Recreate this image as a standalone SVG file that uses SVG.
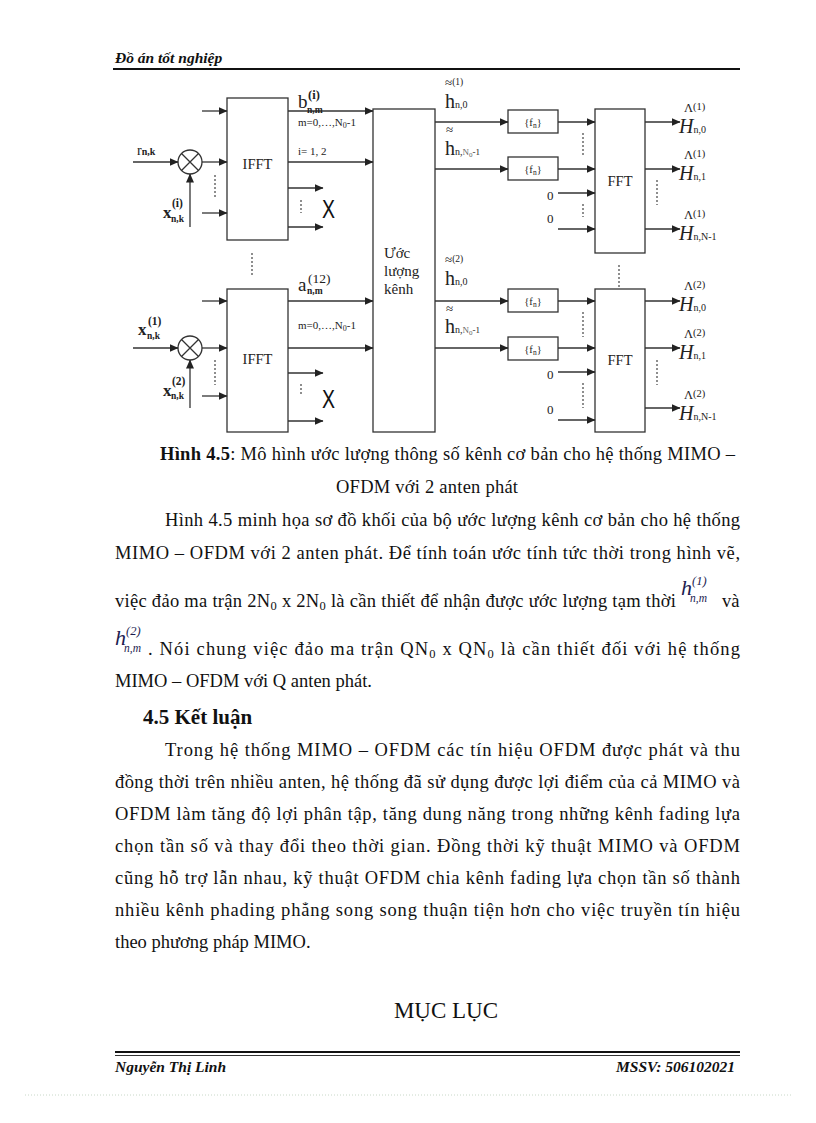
<svg xmlns="http://www.w3.org/2000/svg" width="816" height="1123" viewBox="0 0 816 1123">
<style>
.ln{stroke:#333;stroke-width:1.3;fill:none}
.ar{stroke:#333;stroke-width:1.3;fill:none;marker-end:url(#ah)}
.bx{fill:#fff;stroke:#333;stroke-width:1.3}
.dt{stroke:#444;stroke-width:1.2;stroke-dasharray:2 2;fill:none}
.t{font-family:"Liberation Serif",serif;fill:#111}
.d{font-family:"Liberation Serif",serif;fill:#222}
.body{font-family:"Liberation Serif",serif;font-size:18.5px;fill:#111}
.xm{font-family:"Liberation Sans",sans-serif;font-size:25px;fill:#111}
</style>
<defs>
<marker id="ah" markerWidth="9" markerHeight="8" refX="8.5" refY="4" orient="auto" markerUnits="userSpaceOnUse">
<path d="M0,0 L9,4 L0,8 Z" fill="#222"/>
</marker>
</defs>

<!-- header -->
<text class="t" x="115" y="63" font-size="15.5" font-weight="bold" font-style="italic">Đồ án tốt nghiệp</text>
<line x1="113" y1="69" x2="740" y2="69" stroke="#111" stroke-width="2.2"/>

<!-- nodes -->
<g id="ifft1"><rect class="bx" x="227" y="98" width="61" height="142"/><text class="d" x="257.5" y="169" font-size="14.5" text-anchor="middle">IFFT</text></g>
<g id="ifft2"><rect class="bx" x="227" y="289" width="61" height="143"/><text class="d" x="257.5" y="364" font-size="14.5" text-anchor="middle">IFFT</text></g>
<g id="mul1"><circle class="bx" cx="190" cy="162" r="12"/><path class="ln" d="M181.5,153.5 L198.5,170.5 M198.5,153.5 L181.5,170.5"/></g>
<g id="mul2"><circle class="bx" cx="190" cy="348" r="12"/><path class="ln" d="M181.5,339.5 L198.5,356.5 M198.5,339.5 L181.5,356.5"/></g>
<g id="estimator"><rect class="bx" x="373" y="109" width="62" height="323"/>
<text class="d" x="384" y="258" font-size="15">Ước</text>
<text class="d" x="384" y="276" font-size="15">lượng</text>
<text class="d" x="384" y="294" font-size="15">kênh</text></g>
<g id="f1"><rect class="bx" x="508" y="110" width="50" height="23"/><text class="d" x="533" y="126" font-size="10.5" text-anchor="middle">{f<tspan font-size="7.5" dy="2">n</tspan><tspan dy="-2">}</tspan></text></g>
<g id="f2"><rect class="bx" x="508" y="157" width="50" height="23"/><text class="d" x="533" y="173" font-size="10.5" text-anchor="middle">{f<tspan font-size="7.5" dy="2">n</tspan><tspan dy="-2">}</tspan></text></g>
<g id="f3"><rect class="bx" x="508" y="289" width="50" height="23"/><text class="d" x="533" y="305" font-size="10.5" text-anchor="middle">{f<tspan font-size="7.5" dy="2">n</tspan><tspan dy="-2">}</tspan></text></g>
<g id="f4"><rect class="bx" x="508" y="337" width="50" height="23"/><text class="d" x="533" y="353" font-size="10.5" text-anchor="middle">{f<tspan font-size="7.5" dy="2">n</tspan><tspan dy="-2">}</tspan></text></g>
<g id="fft1"><rect class="bx" x="595" y="109" width="50" height="144"/><text class="d" x="620" y="186" font-size="14.5" text-anchor="middle">FFT</text></g>
<g id="fft2"><rect class="bx" x="595" y="289" width="50" height="143"/><text class="d" x="620" y="365" font-size="14.5" text-anchor="middle">FFT</text></g>

<!-- connectors -->
<g id="connectors">
<line class="ar" x1="202" y1="111" x2="227" y2="111"/>
<line class="ar" x1="133" y1="162" x2="178" y2="162"/>
<line class="ar" x1="202" y1="162" x2="227" y2="162"/>
<line class="ar" x1="202" y1="213" x2="227" y2="213"/>
<line class="ar" x1="190" y1="227" x2="190" y2="174"/>
<line class="ar" x1="288" y1="111" x2="373" y2="111"/>
<line class="ar" x1="288" y1="162" x2="373" y2="162"/>
<line class="ar" x1="288" y1="188" x2="323" y2="188"/>
<line class="ar" x1="288" y1="227" x2="323" y2="227"/>

<line class="ar" x1="202" y1="301" x2="227" y2="301"/>
<line class="ar" x1="133" y1="348" x2="178" y2="348"/>
<line class="ar" x1="202" y1="348" x2="227" y2="348"/>
<line class="ar" x1="202" y1="396" x2="227" y2="396"/>
<line class="ar" x1="190" y1="408" x2="190" y2="360"/>
<line class="ar" x1="288" y1="301" x2="373" y2="301"/>
<line class="ar" x1="288" y1="348" x2="373" y2="348"/>
<line class="ar" x1="288" y1="373" x2="323" y2="373"/>
<line class="ar" x1="288" y1="421" x2="323" y2="421"/>

<line class="ar" x1="435" y1="122" x2="508" y2="122"/>
<line class="ar" x1="558" y1="122" x2="595" y2="122"/>
<line class="ar" x1="435" y1="169" x2="508" y2="169"/>
<line class="ar" x1="558" y1="169" x2="595" y2="169"/>
<line class="ar" x1="558" y1="193" x2="595" y2="193"/>
<line class="ar" x1="558" y1="229" x2="595" y2="229"/>
<line class="ar" x1="645" y1="122" x2="680" y2="122"/>
<line class="ar" x1="645" y1="169" x2="680" y2="169"/>
<line class="ar" x1="645" y1="229" x2="680" y2="229"/>

<line class="ar" x1="435" y1="301" x2="508" y2="301"/>
<line class="ar" x1="558" y1="301" x2="595" y2="301"/>
<line class="ar" x1="435" y1="348" x2="508" y2="348"/>
<line class="ar" x1="558" y1="348" x2="595" y2="348"/>
<line class="ar" x1="558" y1="372" x2="595" y2="372"/>
<line class="ar" x1="558" y1="420" x2="595" y2="420"/>
<line class="ar" x1="645" y1="301" x2="680" y2="301"/>
<line class="ar" x1="645" y1="348" x2="680" y2="348"/>
<line class="ar" x1="645" y1="408" x2="680" y2="408"/>

<!-- dotted continuation marks -->
<line class="dt" x1="215" y1="175" x2="215" y2="197"/>
<line class="dt" x1="215" y1="360" x2="215" y2="385"/>
<line class="dt" x1="252" y1="253" x2="252" y2="277"/>
<line class="dt" x1="301" y1="200" x2="301" y2="213"/>
<line class="dt" x1="301" y1="384" x2="301" y2="395"/>
<line class="dt" x1="583" y1="133" x2="583" y2="157"/>
<line class="dt" x1="583" y1="204" x2="583" y2="217"/>
<line class="dt" x1="583" y1="312" x2="583" y2="337"/>
<line class="dt" x1="583" y1="383" x2="583" y2="408"/>
<line class="dt" x1="657" y1="180" x2="657" y2="205"/>
<line class="dt" x1="657" y1="360" x2="657" y2="385"/>
<line class="dt" x1="619" y1="265" x2="619" y2="288"/>
</g>

<!-- labels -->
<g id="labels">
<text class="xm" transform="translate(322,218) scale(0.78,1)">X</text>
<text class="xm" transform="translate(322,408) scale(0.78,1)">X</text>

<text class="d" x="137" y="155" font-size="14">r<tspan font-size="10" font-weight="bold">n,k</tspan></text>
<text class="d" x="163" y="218" font-size="17" font-weight="bold">x</text>
<text class="d" x="172" y="207" font-size="11.5" font-weight="bold">(i)</text>
<text class="d" x="171" y="222" font-size="9.5" font-weight="bold">n,k</text>

<text class="d" x="298" y="108" font-size="19">b</text>
<text class="d" x="308" y="99" font-size="12.5" font-weight="bold">(i)</text>
<text class="d" x="307" y="113" font-size="9.5" font-weight="bold">n,m</text>
<text class="d" x="298" y="126" font-size="11">m=0,…,N<tspan font-size="8" dy="2">0</tspan><tspan dy="-2">-1</tspan></text>
<text class="d" x="298" y="155" font-size="11">i= 1, 2</text>

<text class="d" x="298" y="291" font-size="19">a</text>
<text class="d" x="308" y="283" font-size="13.5">(12)</text>
<text class="d" x="307" y="294" font-size="9.5" font-weight="bold">n,m</text>
<text class="d" x="298" y="329" font-size="11">m=0,…,N<tspan font-size="8" dy="2">0</tspan><tspan dy="-2">-1</tspan></text>

<text class="d" x="138" y="335" font-size="17" font-weight="bold">x</text>
<text class="d" x="148" y="325" font-size="11.5" font-weight="bold">(1)</text>
<text class="d" x="147" y="339" font-size="9.5" font-weight="bold">n,k</text>
<text class="d" x="163" y="396" font-size="17" font-weight="bold">x</text>
<text class="d" x="172" y="385" font-size="11.5" font-weight="bold">(2)</text>
<text class="d" x="171" y="399" font-size="9.5" font-weight="bold">n,k</text>

<!-- h tilde labels -->
<text class="d" x="445" y="87" font-size="13">≈<tspan font-size="9.5" dy="-2">(1)</tspan></text>
<text class="d" x="445" y="108" font-size="20">h<tspan font-size="10">n,0</tspan></text>
<text class="d" x="446" y="134" font-size="13">≈</text>
<text class="d" x="445" y="155" font-size="20">h<tspan font-size="10">n,</tspan><tspan font-size="9" fill="#666">N</tspan><tspan font-size="7" fill="#666" dy="2">0</tspan><tspan font-size="9" dy="-2">-1</tspan></text>

<text class="d" x="445" y="264" font-size="13">≈<tspan font-size="9.5" dy="-2">(2)</tspan></text>
<text class="d" x="445" y="285" font-size="20">h<tspan font-size="10">n,0</tspan></text>
<text class="d" x="446" y="313" font-size="13">≈</text>
<text class="d" x="445" y="333" font-size="20">h<tspan font-size="10">n,</tspan><tspan font-size="9" fill="#666">N</tspan><tspan font-size="7" fill="#666" dy="2">0</tspan><tspan font-size="9" dy="-2">-1</tspan></text>

<text class="d" x="547" y="200" font-size="13">0</text>
<text class="d" x="547" y="223" font-size="13">0</text>
<text class="d" x="547" y="379" font-size="13">0</text>
<text class="d" x="547" y="414" font-size="13">0</text>

<!-- H hat outputs -->
<text class="d" x="684" y="112" font-size="12.5">Λ<tspan font-size="10.5" dy="-2">(1)</tspan></text>
<text class="d" x="679" y="133" font-size="20" font-style="italic">H<tspan font-size="10" font-style="normal">n,0</tspan></text>
<text class="d" x="684" y="159" font-size="12.5">Λ<tspan font-size="10.5" dy="-2">(1)</tspan></text>
<text class="d" x="679" y="180" font-size="20" font-style="italic">H<tspan font-size="10" font-style="normal">n,1</tspan></text>
<text class="d" x="684" y="219" font-size="12.5">Λ<tspan font-size="10.5" dy="-2">(1)</tspan></text>
<text class="d" x="679" y="240" font-size="20" font-style="italic">H<tspan font-size="10" font-style="normal">n,N-1</tspan></text>

<text class="d" x="684" y="290" font-size="12.5">Λ<tspan font-size="10.5" dy="-2">(2)</tspan></text>
<text class="d" x="679" y="311" font-size="20" font-style="italic">H<tspan font-size="10" font-style="normal">n,0</tspan></text>
<text class="d" x="684" y="338" font-size="12.5">Λ<tspan font-size="10.5" dy="-2">(2)</tspan></text>
<text class="d" x="679" y="359" font-size="20" font-style="italic">H<tspan font-size="10" font-style="normal">n,1</tspan></text>
<text class="d" x="684" y="399" font-size="12.5">Λ<tspan font-size="10.5" dy="-2">(2)</tspan></text>
<text class="d" x="679" y="420" font-size="20" font-style="italic">H<tspan font-size="10" font-style="normal">n,N-1</tspan></text>
</g>

<!-- caption and body -->
<g id="text">
<text class="body" x="160" y="460" textLength="575" lengthAdjust="spacing"><tspan font-weight="bold">Hình 4.5</tspan>: Mô hình ước lượng thông số kênh cơ bản cho hệ thống MIMO –</text>
<text class="body" x="336" y="493" textLength="182" lengthAdjust="spacing">OFDM với 2 anten phát</text>
<text class="body" x="165" y="526" textLength="575" lengthAdjust="spacing">Hình 4.5 minh họa sơ đồ khối của bộ ước lượng kênh cơ bản cho hệ thống</text>
<text class="body" x="115" y="559" textLength="625" lengthAdjust="spacing">MIMO – OFDM với 2 anten phát. Để tính toán ước tính tức thời trong hình vẽ,</text>
<text class="body" x="115" y="607" textLength="561" lengthAdjust="spacing">việc đảo ma trận 2N<tspan font-size="12.5" dy="3">0</tspan><tspan dy="-3"> x 2N</tspan><tspan font-size="12.5" dy="3">0</tspan><tspan dy="-3"> là cần thiết để nhận được ước lượng tạm thời</tspan></text>
<text font-family="Liberation Serif,serif" fill="#1c1c50" x="681" y="595" font-size="22" font-style="italic">h</text>
<text font-family="Liberation Serif,serif" fill="#1c1c50" x="692" y="585" font-size="12.5" font-style="italic">(1)</text>
<text font-family="Liberation Serif,serif" fill="#1c1c50" x="690" y="602" font-size="11.5" font-style="italic">n,m</text>
<text class="body" x="722" y="607">và</text>

<text font-family="Liberation Serif,serif" fill="#1c1c50" x="115" y="645" font-size="22" font-style="italic">h</text>
<text font-family="Liberation Serif,serif" fill="#1c1c50" x="126" y="635" font-size="12.5" font-style="italic">(2)</text>
<text font-family="Liberation Serif,serif" fill="#1c1c50" x="124" y="652" font-size="11.5" font-style="italic">n,m</text>
<text class="body" x="148" y="655" textLength="592" lengthAdjust="spacing">. Nói chung việc đảo ma trận QN<tspan font-size="12.5" dy="3">0</tspan><tspan dy="-3"> x QN</tspan><tspan font-size="12.5" dy="3">0</tspan><tspan dy="-3"> là cần thiết đối với hệ thống</tspan></text>
<text class="body" x="115" y="687">MIMO – OFDM với Q anten phát.</text>

<text class="t" x="143" y="724" font-size="21" font-weight="bold">4.5 Kết luận</text>

<text class="body" x="165" y="756" textLength="575" lengthAdjust="spacing">Trong hệ thống MIMO – OFDM các tín hiệu OFDM được phát và thu</text>
<text class="body" x="115" y="788" textLength="625" lengthAdjust="spacing">đồng thời trên nhiều anten, hệ thống đã sử dụng được lợi điểm của cả MIMO và</text>
<text class="body" x="115" y="820" textLength="625" lengthAdjust="spacing">OFDM làm tăng độ lợi phân tập, tăng dung năng trong những kênh fading lựa</text>
<text class="body" x="115" y="852" textLength="625" lengthAdjust="spacing">chọn tần số và thay đổi theo thời gian. Đồng thời kỹ thuật MIMO và OFDM</text>
<text class="body" x="115" y="884" textLength="625" lengthAdjust="spacing">cũng hỗ trợ lẫn nhau, kỹ thuật OFDM chia kênh fading lựa chọn tần số thành</text>
<text class="body" x="115" y="916" textLength="625" lengthAdjust="spacing">nhiều kênh phading phẳng song song thuận tiện hơn cho việc truyền tín hiệu</text>
<text class="body" x="115" y="948">theo phương pháp MIMO.</text>

<text class="t" x="446" y="1018" font-size="23" text-anchor="middle">MỤC LỤC</text>
</g>

<!-- footer -->
<line x1="115" y1="1052" x2="740" y2="1052" stroke="#111" stroke-width="1.8"/>
<line x1="115" y1="1055.5" x2="740" y2="1055.5" stroke="#333" stroke-width="1"/>
<text class="t" x="115" y="1072" font-size="15.5" font-weight="bold" font-style="italic">Nguyễn Thị Linh</text>
<text class="t" x="735" y="1072" font-size="15.5" font-weight="bold" font-style="italic" text-anchor="end">MSSV: 506102021</text>
<line x1="25" y1="1095" x2="792" y2="1095" stroke="#c8d8c8" stroke-width="1" stroke-dasharray="1 2"/>
</svg>
